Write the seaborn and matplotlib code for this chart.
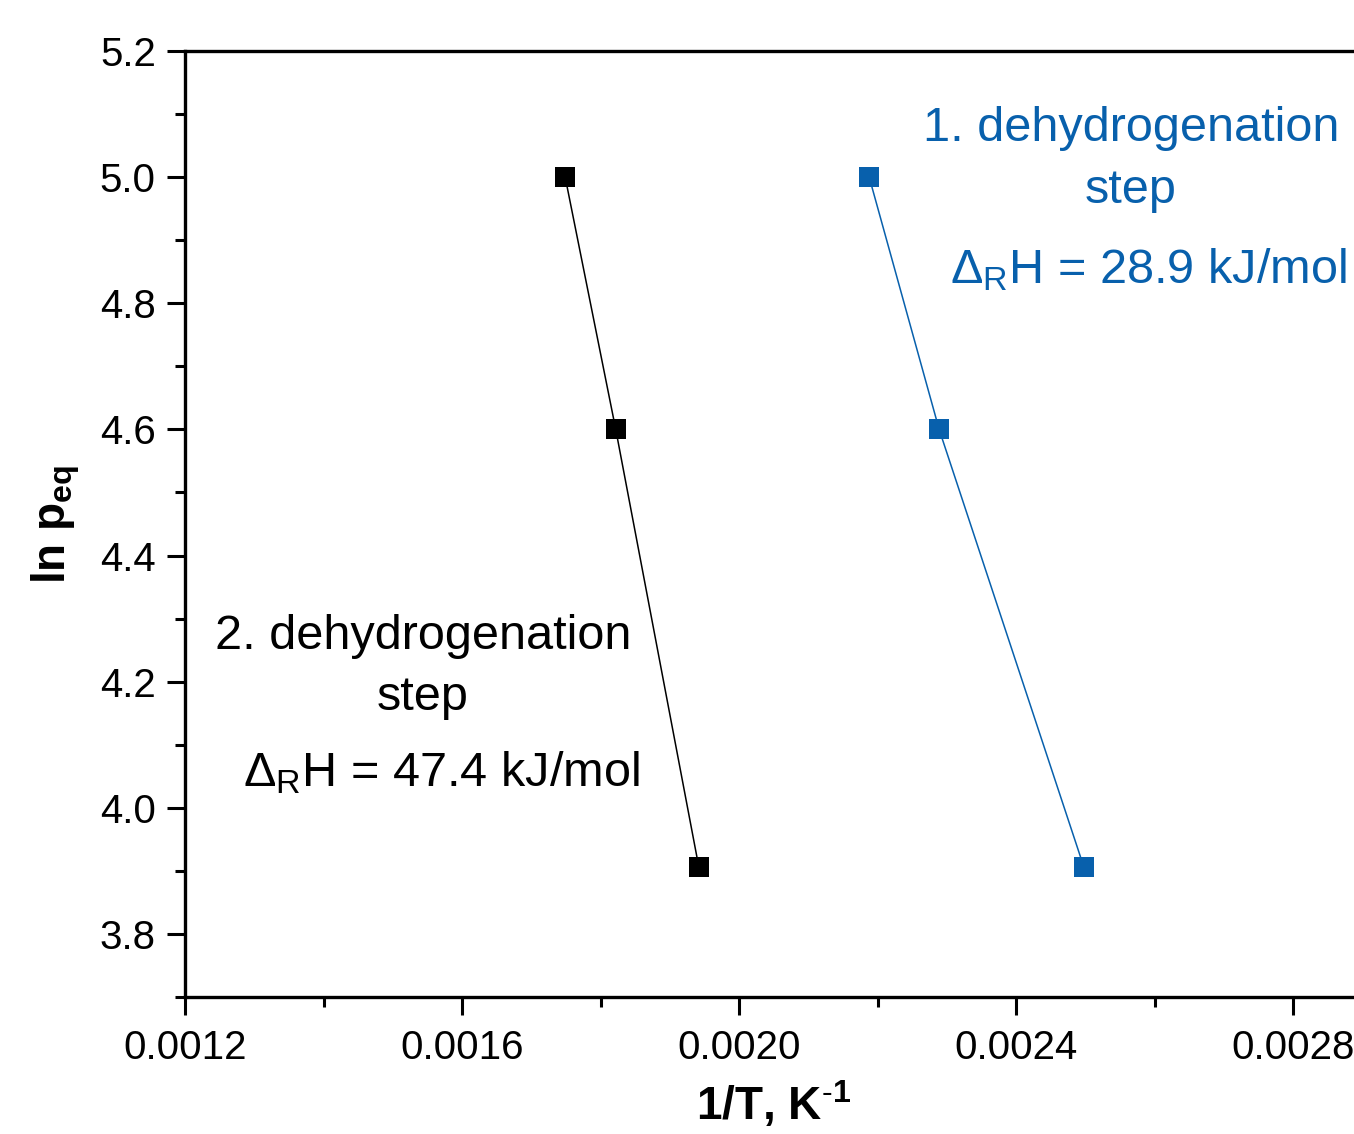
import numpy as np
import pandas as pd
import matplotlib
matplotlib.use("Agg")
import matplotlib.pyplot as plt
import seaborn as sns
from matplotlib.ticker import MultipleLocator

# Data
step2_x = [0.001749, 0.001822, 0.001942]
step2_y = [5.0, 4.6, 3.906]
step1_x = [0.002188, 0.002289, 0.002498]
step1_y = [5.0, 4.6, 3.906]

sns.set_style("ticks")
plt.rcParams['font.family'] = ['Liberation Sans', 'DejaVu Sans']
plt.rcParams['mathtext.fontset'] = 'custom'
plt.rcParams['mathtext.rm'] = 'Liberation Sans'
plt.rcParams['mathtext.it'] = 'Liberation Sans:italic'
plt.rcParams['mathtext.bf'] = 'Liberation Sans:bold'

W, H = 1354, 1134
fig = plt.figure(figsize=(W / 100, H / 100), dpi=100)
left, right, top, bottom = 185, 1362, 51, 997
ax = fig.add_axes([left / W, (H - bottom) / H, (right - left) / W, (bottom - top) / H])

blue = '#0860AC'
sns.lineplot(x=step2_x, y=step2_y, ax=ax, color='black', marker='s', markersize=15,
             markeredgewidth=0, linewidth=1.1, sort=False)
sns.lineplot(x=step1_x, y=step1_y, ax=ax, color=blue, marker='s', markersize=15,
             markeredgewidth=0, linewidth=1.1, sort=False)

ax.set_xlim(0.0012, 0.0012 + 0.0004 * (right - left) / 277)
ax.set_ylim(3.7, 5.2)
ax.xaxis.set_major_locator(MultipleLocator(0.0004))
ax.xaxis.set_minor_locator(MultipleLocator(0.0002))
ax.yaxis.set_major_locator(MultipleLocator(0.2))
ax.yaxis.set_minor_locator(MultipleLocator(0.1))
ax.xaxis.set_major_formatter(matplotlib.ticker.FuncFormatter(lambda v, p: f"{v:.4f}"))
ax.yaxis.set_major_formatter(matplotlib.ticker.FuncFormatter(lambda v, p: f"{v:.1f}"))

for s in ['left', 'bottom', 'top']:
    ax.spines[s].set_linewidth(2.4)
    ax.spines[s].set_color('black')
ax.spines['right'].set_visible(False)
ax.tick_params(which='major', direction='out', length=13, width=2.2, labelsize=29,
               pad=8, colors='black', top=False, right=False)
ax.tick_params(which='minor', direction='out', length=7, width=2.2,
               colors='black', top=False, right=False)
ax.tick_params(axis='x', which='major', pad=10)

ax.set_xlabel(r'1/T, K$^{\mathbf{\text{-}1}}$', fontsize=33, fontweight='bold',
              labelpad=9, color='black')
ax.set_ylabel(r'ln p$_{\mathbf{eq}}$', fontsize=33, fontweight='bold',
              labelpad=13, color='black')

fs = 35

def px2data(px, py):
    xd = 0.0012 + (px - left) / 277 * 0.0004
    yd = 5.2 - (py - top) / 126 * 0.2
    return xd, yd

for (px, py, s, c) in [
    (1131, 128, '1. dehydrogenation', blue),
    (1131, 190, 'step', blue),
    (1148, 270, r'$\mathregular{\Delta_R}$H = 28.9 kJ/mol', blue),
    (423, 636, '2. dehydrogenation', 'black'),
    (423, 697, 'step', 'black'),
    (441, 772, r'$\mathregular{\Delta_R}$H = 47.4 kJ/mol', 'black'),
]:
    xd, yd = px2data(px, py)
    ax.text(xd, yd, s, color=c, fontsize=fs, ha='center', va='center')

fig.savefig('out.png', dpi=100)
